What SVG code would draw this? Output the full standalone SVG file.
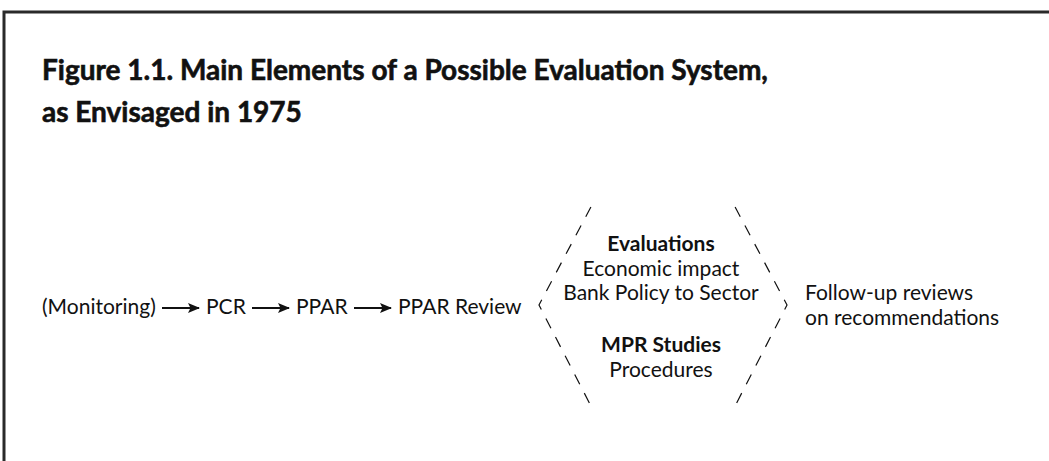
<svg xmlns="http://www.w3.org/2000/svg" width="1049" height="461" viewBox="0 0 1049 461">
  <style>
    .title { font-family: Lato, "Liberation Sans", sans-serif; font-weight: 700; font-size: 28px; fill: #111; stroke: #111; stroke-width: 0.6; }
    .t { font-family: Lato, "Liberation Sans", sans-serif; font-size: 21px; fill: #111; }
    .b { font-weight: 700; }
    .mid { text-anchor: middle; }
    .arrow { stroke: #111; stroke-width: 2; fill: none; }
    .dash { stroke: #111; stroke-width: 1.2; fill: none; stroke-dasharray: 11 10; stroke-dashoffset: -4.5; }
  </style>
  <defs>
    <marker id="ah" viewBox="0 0 12 10" refX="11" refY="5" markerWidth="12" markerHeight="10" markerUnits="userSpaceOnUse" orient="auto">
      <path d="M0,0 L12,5 L0,10 L2.5,5 Z" fill="#111"/>
    </marker>
  </defs>
  <rect width="1049" height="461" fill="#fff"/>
  <path d="M4,461 V12 H1049" fill="none" stroke="#2a2a2a" stroke-width="3"/>

  <g id="title">
    <text class="title" x="42" y="80">Figure 1.1. Main Elements of a Possible Evaluation System,</text>
    <text class="title" x="42" y="122">as Envisaged in 1975</text>
  </g>

  <g id="monitoring"><text class="t" x="42" y="314">(Monitoring)</text></g>
  <g id="pcr"><text class="t" x="206" y="314">PCR</text></g>
  <g id="ppar"><text class="t" x="296" y="314">PPAR</text></g>
  <g id="ppar-review"><text class="t" x="398" y="314">PPAR Review</text></g>

  <g id="hexagon">
    <path class="dash" d="M593,203 L539,305 L593,410"/>
    <path class="dash" d="M733,203 L787,305 L733,410"/>
  </g>
  <g id="evaluations">
    <text class="t b mid" x="661" y="251">Evaluations</text>
    <text class="t mid" x="661" y="276">Economic impact</text>
    <text class="t mid" x="661" y="300">Bank Policy to Sector</text>
  </g>
  <g id="mpr-studies">
    <text class="t b mid" x="661" y="352">MPR Studies</text>
    <text class="t mid" x="661" y="377">Procedures</text>
  </g>
  <g id="follow-up">
    <text class="t" x="805" y="300">Follow-up reviews</text>
    <text class="t" x="805" y="325">on recommendations</text>
  </g>

  <g id="connectors">
    <line class="arrow" x1="162" y1="308" x2="199" y2="308" marker-end="url(#ah)"/>
    <line class="arrow" x1="252" y1="308" x2="289" y2="308" marker-end="url(#ah)"/>
    <line class="arrow" x1="354" y1="308" x2="391" y2="308" marker-end="url(#ah)"/>
  </g>
</svg>
